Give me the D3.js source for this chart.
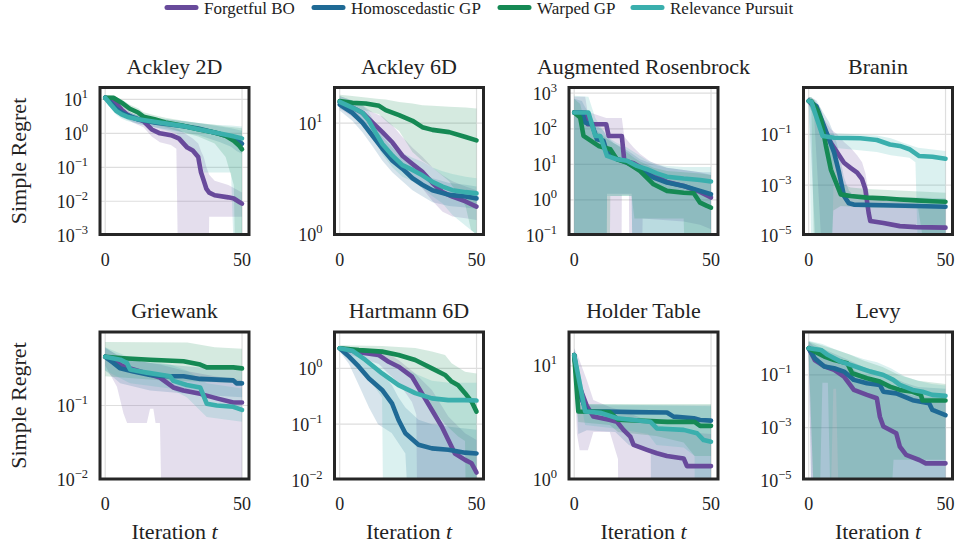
<!DOCTYPE html>
<html>
<head>
<meta charset="utf-8">
<script src="https://cdn.jsdelivr.net/npm/d3@7"></script>
<style>
body { margin: 0; background: #fff; }
</style>
</head>
<body>
<svg id="chart"></svg>
<script>
// methods and colours
var methods = ["Forgetful BO", "Homoscedastic GP", "Warped GP", "Relevance Pursuit"];
var methodColors = ["#684a9b", "#1f6a95", "#158954", "#3aafad"];

var panelTitles = ["Ackley 2D", "Ackley 6D", "Augmented Rosenbrock", "Branin",
                   "Griewank", "Hartmann 6D", "Holder Table", "Levy"];
// y ranges as log10 exponents, and the exponents that get a tick label
var panelYExtent = [[-2.98, 1.35], [0, 1.32], [-0.97, 3.16], [-4.95, 0.85],
                    [-2.0, 0.0], [-1.98, 0.65], [0, 1.3], [-4.95, 0.63]];
var panelYTicks = [[-3, -2, -1, 0, 1], [0, 1], [-1, 0, 1, 2, 3], [-5, -3, -1],
                   [-2, -1], [-2, -1, 0], [0, 1], [-5, -3, -1]];
var xTicks = [0, 50];

// each series: median line (med), lower (lo) and upper (hi) band, as [iteration, regret]
var ack2_fbo = {
  med: [[0,11.2],[2,10],[4,7.5],[6,5],[8,3.6],[10,2.9],[14,2.3],[17,1.3],[20,1.0],[24,0.88],[26,0.76],[27,0.7],[30,0.38],[32,0.31],[34,0.2],[35,0.071],[36,0.041],[37,0.023],[38,0.018],[40,0.015],[45,0.013],[47,0.012],[49,0.0095],[50,0.0085]],
  lo: [[0,9.5],[2,8],[4,5.5],[6,3.8],[8,2.7],[10,2.1],[14,1.5],[17,0.8],[20,0.55],[24,0.45],[26,0.35],[27,1e-6],[37.5,1e-6],[38,0.0035],[50,0.0035]],
  hi: [[0,13.5],[2,12.5],[4,10],[6,7],[8,5],[10,3.8],[14,3],[17,2.2],[20,1.8],[24,1.5],[27,1.3],[30,0.9],[32,0.7],[34,0.5],[35,0.3],[36,0.2],[37,0.1],[38,0.06],[40,0.04],[45,0.03],[50,0.018]]
};
var ack2_hgp = {
  med: [[0,11.2],[2,8],[4,5.3],[6,4.1],[8,3.4],[12,2.6],[18,2.1],[28,1.66],[34,1.38],[42,0.95],[46,0.76],[48,0.65],[50,0.5]],
  lo: [[0,9],[2,6],[4,4],[6,3],[8,2.5],[12,1.9],[18,1.5],[28,1.1],[34,0.9],[42,0.55],[46,0.4],[48,0.3],[50,0.25]],
  hi: [[0,13.5],[2,11],[4,7.5],[6,5.5],[8,4.5],[12,3.4],[18,2.8],[28,2.3],[34,2.0],[42,1.6],[46,1.4],[48,1.3],[50,1.2]]
};
var ack2_wgp = {
  med: [[0,11.2],[3,11.2],[6,8],[9,5.3],[12,4.1],[14,3.1],[18,2.6],[22,2.1],[28,1.7],[34,1.32],[40,1.06],[44,0.85],[47,0.6],[49,0.43],[50,0.34]],
  lo: [[0,10],[3,9],[6,6],[9,4],[12,3],[14,2.3],[18,1.8],[22,1.5],[28,1.1],[34,0.8],[40,0.5],[44,0.2],[47,0.03],[48,1e-6],[50,1e-6]],
  hi: [[0,13.5],[3,13],[6,10],[9,7],[12,5.5],[14,4.2],[18,3.4],[22,2.9],[28,2.4],[34,2.0],[40,1.8],[44,1.6],[47,1.5],[50,1.4]]
};
var ack2_rp = {
  med: [[0,11.2],[2,7.1],[4,4.6],[6,3.6],[8,3.1],[12,2.6],[18,2.2],[28,1.66],[34,1.32],[40,1.06],[46,0.85],[50,0.71]],
  lo: [[0,9],[2,5.5],[4,3.5],[6,2.7],[8,2.3],[12,1.9],[18,1.5],[26,1.0],[29,0.4],[35,0.2],[36,0.07],[46,0.07],[48,1e-6],[50,1e-6]],
  hi: [[0,13],[2,9.5],[4,6.2],[6,4.8],[8,4.1],[12,3.4],[18,2.9],[28,2.3],[34,2.0],[40,1.8],[46,1.7],[50,1.6]]
};

var ack6_fbo = {
  med: [[0,15.5],[4.6,13.8],[8.3,12.4],[12,10.1],[15.6,8.3],[19.3,6.7],[22.9,5.1],[26.6,4.3],[30.2,3.65],[33.9,2.9],[37.6,2.4],[41.2,2.19],[46,1.98],[50,1.78]],
  lo: [[0,13.5],[4.6,11.5],[8.3,10],[12,8],[15.6,6.3],[19.3,5],[22.9,3.9],[26.6,3.2],[30.2,2.6],[33.9,2.0],[37.6,1.6],[41.2,1.45],[46,1.4],[50,1.35]],
  hi: [[0,17.5],[4.6,16],[8.3,14.5],[12,12.5],[15.6,11.5],[19.3,9.5],[22.9,7.5],[26.6,6],[30.2,5],[33.9,4.0],[37.6,3.4],[41.2,3.0],[46,2.7],[50,2.5]]
};
var ack6_hgp = {
  med: [[0,14.7],[4.6,12.4],[8.3,10.1],[12,7.7],[15.6,5.9],[19.3,4.6],[22.9,3.9],[26.6,3.2],[30.2,2.8],[33.9,2.5],[40,2.27],[46,2.19],[50,2.11]],
  lo: [[0,13],[4.6,10.5],[8.3,8.3],[12,6.2],[15.6,4.6],[19.3,3.6],[22.9,3.0],[26.6,2.5],[30.2,2.2],[33.9,1.95],[40,1.8],[46,1.75],[50,1.7]],
  hi: [[0,16.5],[4.6,14.5],[8.3,12.2],[12,9.6],[15.6,7.6],[19.3,6],[22.9,5.0],[26.6,4.2],[30.2,3.6],[33.9,3.2],[40,2.9],[46,2.8],[50,2.7]]
};
var ack6_wgp = {
  med: [[0,15.8],[4.6,15.2],[9.5,15],[14.4,14.3],[16.8,13.1],[21.7,11.8],[26.6,10.5],[30.2,9.2],[33.9,8.7],[40,8.3],[46,7.5],[50,7.0]],
  lo: [[0,14],[4.6,13.5],[9.5,13],[14.4,12],[16.8,10.5],[21.7,8.5],[26.6,5.5],[30.2,4.6],[33.9,4.0],[40,3.0],[46,1.8],[48,1.1],[50,1.0]],
  hi: [[0,18],[4.6,17.5],[9.5,17],[14.4,16.5],[16.8,16.3],[21.7,15.5],[26.6,15],[30.2,14.5],[33.9,14.3],[40,14],[46,13.8],[50,13.5]]
};
var ack6_rp = {
  med: [[0,15.5],[4.6,13.8],[8.3,12.4],[10.7,10.5],[13,8.3],[15.6,6.5],[19.3,5.1],[22.9,4.2],[26.6,3.8],[30.2,3.4],[33.9,2.97],[37.6,2.69],[41.2,2.5],[46,2.4],[50,2.34]],
  lo: [[0,13.5],[4.6,12],[8.3,10.5],[10.7,8.8],[13,6.8],[15.6,5.2],[19.3,4.0],[22.9,3.3],[26.6,3.0],[30.2,2.6],[33.9,2.2],[37.6,1.9],[41.2,1.5],[46,1.2],[50,1.0]],
  hi: [[0,17.5],[4.6,16],[8.3,14.5],[10.7,12.5],[13,10],[15.6,8],[19.3,6.4],[22.9,5.4],[26.6,4.9],[30.2,4.5],[33.9,4.0],[37.6,3.7],[41.2,3.5],[46,3.3],[50,3.2]]
};

var ros_fbo = {
  med: [[0,286],[4,286],[4.9,134],[11.7,134],[12.6,63],[17.4,63],[18.3,12.6],[21.7,10.7],[27.8,5.6],[33.9,3.2],[40,2.48],[46,1.68],[50,1.17]],
  lo: [[0,1e-6],[17,1e-6],[17.4,1.4],[20,1.4],[20.5,1e-6],[24,1e-6],[25,0.3],[40,0.25],[46,0.2],[50,0.15]],
  hi: [[0,800],[4,800],[4.9,300],[11.7,200],[17.4,200],[18.3,60],[21.7,30],[24,20],[27.8,12],[33.9,8],[40,7],[46,6],[50,5]]
};
var ros_hgp = {
  med: [[0,286],[2.8,286],[4,150],[6.5,134],[8.3,51],[10.7,46],[12,21.5],[14.4,15.5],[19.3,11.2],[24,7.3],[29,4.26],[33.9,3.1],[40,2.48],[46,1.8],[50,1.45]],
  lo: [[0,1e-6],[11.5,1e-6],[12,1.5],[21,1.5],[22,1e-6],[50,1e-6]],
  hi: [[0,700],[2.8,600],[4,400],[6.5,200],[8.3,120],[10.7,90],[12,60],[14.4,40],[19.3,25],[22,18],[24,14],[29,10],[33.9,8],[40,7],[46,6],[50,6]]
};
var ros_wgp = {
  med: [[0,286],[2.2,207],[3.4,63],[5.2,51],[8.9,33],[13.2,26.7],[15.6,13.9],[19.3,11.2],[24.1,6.5],[29,2.76],[33.9,1.8],[40,1.6],[43.7,1.55],[46,0.84],[48.5,0.68],[50,0.61]],
  lo: [[0,1e-6],[12.5,1e-6],[13.2,1.3],[21,1.3],[22,0.3],[40,0.3],[42,1e-6],[50,1e-6]],
  hi: [[0,700],[2.2,500],[3.4,200],[5.2,150],[8.9,80],[11,60],[13.2,45],[15.6,35],[19.3,22],[22,15],[24.1,12],[29,8],[33.9,6.5],[40,6],[46,5.5],[50,5]]
};
var ros_rp = {
  med: [[0,286],[5.2,286],[7.7,63],[9.5,63],[12,17.3],[15.6,13.9],[19.3,12.6],[22.9,9.1],[26.6,7.3],[30.2,5.6],[33.9,4.5],[40,4.0],[46,3.65],[50,3.3]],
  lo: [[0,1e-6],[11.5,1e-6],[12,1.3],[21,1.3],[22,1e-6],[50,1e-6]],
  hi: [[0,850],[5.2,800],[7.7,200],[9.5,120],[12,60],[15.6,40],[19.3,30],[22,22],[26.6,13],[30.2,10],[33.9,9],[40,8.5],[50,8.5]]
};

var br_fbo = {
  med: [[0,2.07],[2,1.2],[5.1,0.21],[8.1,0.047],[10.5,0.019],[12.9,0.0076],[15.3,0.0048],[17.7,0.0031],[19.5,0.0017],[20.7,6.8e-4],[21.9,8.1e-5],[22.5,3.8e-5],[27.3,3.2e-5],[33.3,2.4e-5],[39.2,2.2e-5],[50,2.1e-5]],
  lo: [[0,1.5],[2,0.5],[5,1e-6],[50,1e-6]],
  hi: [[0,3],[2,2.5],[5.1,0.5],[8.1,0.16],[10.5,0.1],[12.9,0.05],[15.3,0.03],[17.7,0.015],[19.5,0.008],[20.7,0.003],[21.9,5e-4],[22.5,3e-4],[27.3,2.5e-4],[50,1.5e-4]]
};
var br_hgp = {
  med: [[0,2.07],[2.8,1.3],[5.1,0.29],[7.5,0.063],[9.3,0.019],[11.1,3.1e-3],[12.9,3.7e-4],[14.7,1.9e-4],[16.5,1.7e-4],[27.3,1.6e-4],[39.2,1.5e-4],[50,1.4e-4]],
  lo: [[0,1.5],[2.8,1e-6],[50,1e-6]],
  hi: [[0,3],[2.8,2.2],[5.1,0.8],[7.5,0.3],[9.3,0.1],[11.1,0.02],[12.9,2e-3],[14.7,6e-4],[16.5,4e-4],[27.3,3.5e-4],[39.2,3.2e-4],[50,3e-4]]
};
var br_wgp = {
  med: [[0,2.07],[1,2.0],[3.3,0.83],[4.5,0.39],[6.3,0.035],[8.1,4.1e-3],[10.5,9.1e-4],[11.7,4.3e-4],[15.3,3.7e-4],[21.3,3.2e-4],[27.3,3.0e-4],[33.3,2.7e-4],[39.2,2.5e-4],[45.2,2.3e-4],[50,2.2e-4]],
  lo: [[0,1.5],[1,0.8],[2,1e-6],[8,1e-6],[9,1e-4],[11.7,1.5e-4],[21.3,1.3e-4],[40,1.2e-4],[43,1e-6],[50,1e-6]],
  hi: [[0,3],[1,3],[3.3,1.5],[4.5,1.0],[6.3,0.2],[8.1,0.03],[10.5,5e-3],[11.7,1.2e-3],[15.3,8e-4],[21.3,7e-4],[50,5e-4]]
};
var br_rp = {
  med: [[0,2.07],[1,1.9],[5.1,0.086],[9.3,0.074],[18.9,0.07],[24.9,0.06],[29.7,0.04],[33.3,0.035],[36.8,0.026],[40.4,0.014],[45.2,0.0132],[50,0.011]],
  lo: [[0,1.5],[1,1e-6],[8.5,1e-6],[9.3,0.03],[24.9,0.02],[30,0.015],[36.8,0.012],[39,0.008],[40,1e-6],[50,1e-6]],
  hi: [[0,3],[1,3],[5.1,0.12],[18.9,0.1],[24.9,0.09],[30,0.07],[35,0.045],[40,0.03],[50,0.022]]
};

var gw_fbo = {
  med: [[0,0.46],[4.3,0.38],[6.7,0.34],[12.8,0.29],[20,0.24],[24.9,0.176],[28.6,0.16],[34.7,0.144],[40.8,0.125],[46.8,0.11],[50,0.11]],
  lo: [[0,0.35],[1,0.3],[4.3,0.18],[6.7,0.078],[8,0.058],[15.2,0.058],[16.4,0.09],[17.6,0.09],[18.4,0.058],[20,0.058],[22.5,1e-6],[50,1e-6]],
  hi: [[0,0.6],[4.3,0.5],[12.8,0.4],[20,0.36],[28.6,0.3],[40,0.25],[50,0.22]]
};
var gw_hgp = {
  med: [[0,0.46],[3,0.38],[5.5,0.32],[10.3,0.29],[16.4,0.26],[22.5,0.25],[28.6,0.25],[34.7,0.23],[46.8,0.22],[48,0.2],[50,0.2]],
  lo: [[0,0.3],[5.5,0.2],[16.4,0.16],[34.7,0.14],[50,0.13]],
  hi: [[0,0.62],[5.5,0.45],[16.4,0.38],[34.7,0.33],[50,0.3]]
};
var gw_wgp = {
  med: [[0,0.46],[6.7,0.44],[16.4,0.42],[28.6,0.40],[34.7,0.36],[37.1,0.33],[46.8,0.33],[50,0.32]],
  lo: [[0,0.25],[20,0.22],[50,0.2]],
  hi: [[0,0.73],[30,0.72],[40,0.62],[50,0.59]]
};
var gw_rp = {
  med: [[0,0.46],[5.5,0.42],[7.9,0.38],[9.1,0.31],[12.8,0.29],[15.2,0.28],[23.7,0.25],[24.9,0.216],[29.8,0.19],[34.7,0.176],[37.1,0.106],[40.8,0.1],[46.8,0.096],[50,0.087]],
  lo: [[0,0.3],[9.1,0.2],[23.7,0.17],[29.8,0.13],[37.1,0.07],[50,0.06]],
  hi: [[0,0.62],[9.1,0.45],[23.7,0.36],[29.8,0.3],[37.1,0.2],[50,0.17]]
};

var hm_fbo = {
  med: [[0,2.28],[8.2,1.9],[14.3,1.73],[17.9,1.31],[21.5,1.07],[26.4,0.71],[30,0.36],[33.7,0.18],[37.3,0.091],[39.7,0.052],[42.1,0.03],[45.8,0.023],[48.2,0.02],[50,0.0137]],
  lo: [[0,2.0],[8.2,1.5],[14.3,1.2],[17.9,0.8],[21.5,0.55],[26.4,0.25],[28,0.15],[29,1e-6],[50,1e-6]],
  hi: [[0,2.5],[8.2,2.3],[14.3,2.1],[17.9,1.8],[21.5,1.41],[27.6,0.81],[33.7,0.41],[39.7,0.137],[45.8,0.069],[50,0.052]]
};
var hm_hgp = {
  med: [[0,2.28],[3.4,1.62],[7,1.07],[10.7,0.66],[15.5,0.41],[19.1,0.237],[21.5,0.119],[24,0.069],[28.8,0.043],[33.7,0.037],[39.7,0.035],[45.8,0.031],[50,0.030]],
  lo: [[0,2.0],[3.4,1.2],[7,0.5],[10.7,0.2],[14,0.1],[19,0.07],[24,0.03],[28.8,1e-6],[50,1e-6]],
  hi: [[0,2.5],[3.4,2.2],[7,1.7],[10.7,1.2],[15.5,0.8],[19.1,0.5],[21.5,0.3],[24,0.2],[28.8,0.12],[33.7,0.1],[40,0.09],[50,0.08]]
};
var hm_wgp = {
  med: [[0,2.28],[7,2.12],[15.5,1.99],[21.5,1.73],[27.6,1.41],[33.7,1.0],[38.5,0.76],[40.9,0.58],[43.3,0.5],[45.8,0.36],[48.2,0.254],[50,0.168]],
  lo: [[0,2.0],[7,1.8],[15.5,1.5],[21.5,1.1],[27.6,0.6],[33.7,0.2],[38.5,0.1],[43.3,0.06],[45.8,0.05],[47,1e-6],[50,1e-6]],
  hi: [[0,2.6],[15.5,2.5],[27.6,2.3],[33.7,2.0],[38.5,1.73],[40.9,1.23],[45.8,0.87],[50,0.81]]
};
var hm_rp = {
  med: [[0,2.28],[4.6,2.07],[9.4,1.41],[15.5,0.81],[21.5,0.5],[27.6,0.36],[33.7,0.29],[39.7,0.27],[45.8,0.27],[50,0.265]],
  lo: [[0,2.0],[4.6,1.6],[9.4,0.8],[15.5,0.3],[16.5,1e-6],[50,1e-6]],
  hi: [[0,2.5],[4.6,2.4],[9.4,2.0],[15.5,1.5],[21.5,1.1],[27.6,0.8],[33.7,0.6],[40,0.55],[50,0.55]]
};

var ht_fbo = {
  med: [[0,12.5],[1.5,7],[4.6,4.43],[7,3.57],[13.2,3.33],[15.6,3.21],[18,2.72],[20.5,2.37],[21.7,2.0],[26.6,1.81],[30.2,1.69],[33.9,1.6],[40,1.52],[41.2,1.30],[50,1.30]],
  lo: [[0,10],[1,2.5],[2,1.8],[5,1.8],[7,2.6],[13,2.6],[16,1.5],[17.4,1e-6],[50,1e-6]],
  hi: [[0,14.3],[1.5,12],[4.6,7.5],[7,5],[13.2,4.3],[18,4.0],[24,3.5],[30,3.0],[40,2.6],[50,2.5]]
};
var ht_hgp = {
  med: [[0,12.5],[1.5,6],[4.6,3.95],[12,3.95],[21.7,3.9],[33.9,3.87],[36.3,3.56],[43.7,3.45],[46,3.33],[50,3.28]],
  lo: [[0,10],[1.5,2.5],[4.6,2.7],[15,2.6],[20,2.0],[28,1.7],[29,1e-6],[50,1e-6]],
  hi: [[0,14],[1.5,10],[4.6,4.5],[50,4.5]]
};
var ht_wgp = {
  med: [[0,12.5],[1.5,3.95],[13,3.9],[16,3.35],[34,3.2],[44,3.2],[46,2.95],[50,2.95]],
  lo: [[0,10],[1.5,3.2],[13,3.0],[16,2.6],[30,2.4],[40,2.1],[44,1.6],[50,1.6]],
  hi: [[0,14],[1.5,4.6],[50,4.6]]
};
var ht_rp = {
  med: [[0,12.5],[4,3.95],[9.5,3.85],[15.6,3.45],[27.8,3.21],[30.2,2.8],[40,2.72],[44.9,2.54],[47.3,2.21],[50,2.14]],
  lo: [[0,10],[4,3.0],[15,2.8],[27,2.5],[30,2.0],[40,1.9],[44,1.6],[45,1e-6],[50,1e-6]],
  hi: [[0,14.3],[4,4.6],[50,4.4]]
};

var lv_fbo = {
  med: [[0,1.03],[2.2,0.37],[5.7,0.21],[9.3,0.155],[12.9,0.087],[16.5,0.027],[21.3,0.0175],[24.9,0.013],[26,0.0026],[27.3,0.0011],[32,6.1e-4],[33.3,1.9e-4],[35.6,9.2e-5],[40.4,5.9e-5],[42.8,4.4e-5],[50,4.4e-5]],
  lo: [[0,0.5],[1,1e-6],[50,1e-6]],
  hi: [[0,1.8],[5,0.6],[10,0.35],[15,0.2],[20,0.09],[25,0.06],[30,0.03],[35,0.02],[40,0.015],[50,0.014]]
};
var lv_hgp = {
  med: [[0,1.03],[2.2,0.43],[5.7,0.21],[9.3,0.18],[12.9,0.134],[16.5,0.065],[21.3,0.048],[26,0.042],[27.3,0.023],[32,0.02],[38,0.011],[44,0.0084],[45.2,0.0047],[50,0.003]],
  lo: [[0,0.5],[1,1e-6],[50,1e-6]],
  hi: [[0,1.8],[5,1.0],[10,0.6],[15,0.35],[20,0.2],[27,0.12],[35,0.05],[40,0.035],[50,0.03]]
};
var lv_wgp = {
  med: [[0,1.03],[3.3,0.67],[5.7,0.5],[9.3,0.37],[14.1,0.28],[15.9,0.116],[21.3,0.075],[26,0.056],[29.7,0.036],[33.3,0.027],[38,0.023],[41,0.0175],[41.6,0.0107],[50,0.0107]],
  lo: [[0,0.6],[2,1e-6],[4,1e-6],[5,0.05],[7,0.05],[8,1e-6],[30,1e-6],[31,6e-5],[50,6e-5]],
  hi: [[0,1.9],[5,1.3],[10,0.9],[15,0.6],[20,0.35],[27,0.2],[33,0.1],[40,0.06],[50,0.045]]
};
var lv_rp = {
  med: [[0,1.03],[4.5,0.89],[6.9,0.58],[11.7,0.32],[15.3,0.24],[18.9,0.18],[22.5,0.134],[27.3,0.1],[30.9,0.065],[33.3,0.042],[38,0.027],[41.6,0.023],[45.2,0.0175],[50,0.016]],
  lo: [[0,0.6],[2,1e-6],[8,1e-6],[9,0.03],[10,0.03],[11,1e-6],[50,1e-6]],
  hi: [[0,2],[5,1.5],[10,0.9],[15,0.6],[20,0.4],[25,0.3],[30,0.18],[35,0.09],[40,0.06],[45,0.045],[50,0.04]]
};

var panelSeries = [
  [ack2_fbo, ack2_hgp, ack2_wgp, ack2_rp],
  [ack6_fbo, ack6_hgp, ack6_wgp, ack6_rp],
  [ros_fbo, ros_hgp, ros_wgp, ros_rp],
  [br_fbo, br_hgp, br_wgp, br_rp],
  [gw_fbo, gw_hgp, gw_wgp, gw_rp],
  [hm_fbo, hm_hgp, hm_wgp, hm_rp],
  [ht_fbo, ht_hgp, ht_wgp, ht_rp],
  [lv_fbo, lv_hgp, lv_wgp, lv_rp]
];

window.onload = function() {
	var width = 956, height = 548;
	var panelLefts = [100, 334.5, 569, 803.5];
	var panelTops = [87.5, 332];
	var pw = 149, ph = 147;
	var fontFamily = "'Liberation Serif', 'DejaVu Serif', serif";

	var svg = d3.select("#chart").attr("width", width).attr("height", height)
		.attr("font-family", fontFamily);

	// legend along the top
	var legendHandleX = [167, 314, 500, 633];
	var legend = svg.append("g").attr("class", "legend");
	legend.selectAll("line")
		.data(methods)
		.enter().append("line")
			.attr("x1", function(d, i) { return legendHandleX[i]; })
			.attr("x2", function(d, i) { return legendHandleX[i] + 29; })
			.attr("y1", 7.5).attr("y2", 7.5)
			.attr("stroke", function(d, i) { return methodColors[i]; })
			.attr("stroke-width", 5)
			.attr("stroke-linecap", "round");
	legend.selectAll("text")
		.data(methods)
		.enter().append("text")
			.attr("x", function(d, i) { return legendHandleX[i] + 37; })
			.attr("y", 14)
			.attr("fill", "#222")
			.style("font-size", "17px")
			.text(function(d) { return d; });

	panelTitles.forEach(function(title, p) {
		var row = Math.floor(p / 4), col = p % 4;
		var left = panelLefts[col], top = panelTops[row];

		var x = d3.scaleLinear().domain([-1.9, 52.55]).range([left, left + pw]);
		var y = d3.scaleLog()
			.domain([Math.pow(10, panelYExtent[p][0]), Math.pow(10, panelYExtent[p][1])])
			.range([top + ph, top]);

		var g = svg.append("g").attr("class", "panel");

		var clipId = "clip" + p;
		svg.append("clipPath").attr("id", clipId)
			.append("rect")
			.attr("x", left).attr("y", top).attr("width", pw).attr("height", ph);

		var plot = g.append("g").attr("clip-path", "url(#" + clipId + ")");

		// grid
		plot.selectAll(".ygrid")
			.data(panelYTicks[p])
			.enter().append("line")
				.attr("x1", left).attr("x2", left + pw)
				.attr("y1", function(d) { return y(Math.pow(10, d)); })
				.attr("y2", function(d) { return y(Math.pow(10, d)); })
				.attr("stroke", "#dedede").attr("stroke-width", 1.2);
		plot.selectAll(".xgrid")
			.data(xTicks)
			.enter().append("line")
				.attr("x1", function(d) { return x(d); })
				.attr("x2", function(d) { return x(d); })
				.attr("y1", top).attr("y2", top + ph)
				.attr("stroke", "#dedede").attr("stroke-width", 1.2);

		var line = d3.line()
			.x(function(d) { return x(d[0]); })
			.y(function(d) { return y(d[1]); });

		// bands first, then the median lines on top
		panelSeries[p].forEach(function(s, m) {
			var poly = s.hi.concat(s.lo.slice().reverse());
			plot.append("path")
				.attr("d", line(poly) + "Z")
				.attr("fill", methodColors[m])
				.attr("fill-opacity", 0.18)
				.attr("stroke", "none");
		});
		panelSeries[p].forEach(function(s, m) {
			plot.append("path")
				.attr("d", line(s.med))
				.attr("fill", "none")
				.attr("stroke", methodColors[m])
				.attr("stroke-width", 4.6)
				.attr("stroke-linejoin", "round")
				.attr("stroke-linecap", "round");
		});

		// frame
		g.append("rect")
			.attr("x", left).attr("y", top).attr("width", pw).attr("height", ph)
			.attr("fill", "none").attr("stroke", "#262626").attr("stroke-width", 3);

		// title
		g.append("text")
			.attr("x", left + pw / 2).attr("y", top - 14)
			.attr("text-anchor", "middle")
			.attr("fill", "#222")
			.style("font-size", "22px")
			.text(title);

		// x tick labels
		g.selectAll(".xtick")
			.data(xTicks)
			.enter().append("text")
				.attr("x", function(d) { return x(d); })
				.attr("y", top + ph + 31)
				.attr("text-anchor", "middle")
				.attr("fill", "#222")
				.style("font-size", "18px")
				.text(function(d) { return d; });

		// y tick labels as 10^k
		var yt = g.selectAll(".ytick")
			.data(panelYTicks[p])
			.enter().append("text")
				.attr("x", left - 12)
				.attr("y", function(d) { return y(Math.pow(10, d)) + 6.5; })
				.attr("text-anchor", "end")
				.attr("fill", "#222")
				.style("font-size", "18px");
		yt.append("tspan").text("10");
		yt.append("tspan")
			.attr("dy", -8)
			.style("font-size", "12.5px")
			.text(function(d) { return d < 0 ? "\u2212" + (-d) : d; });

		if (col == 0) {
			g.append("text")
				.attr("transform", "translate(26," + (top + ph / 2) + ") rotate(-90)")
				.attr("text-anchor", "middle")
				.attr("fill", "#222")
				.style("font-size", "22px")
				.text("Simple Regret");
		}
		if (row == 1) {
			var xl = g.append("text")
				.attr("x", left + pw / 2).attr("y", top + ph + 60)
				.attr("text-anchor", "middle")
				.attr("fill", "#222")
				.style("font-size", "22px");
			xl.append("tspan").text("Iteration ");
			xl.append("tspan").style("font-style", "italic").text("t");
		}
	});
}
</script>
</body>
</html>
